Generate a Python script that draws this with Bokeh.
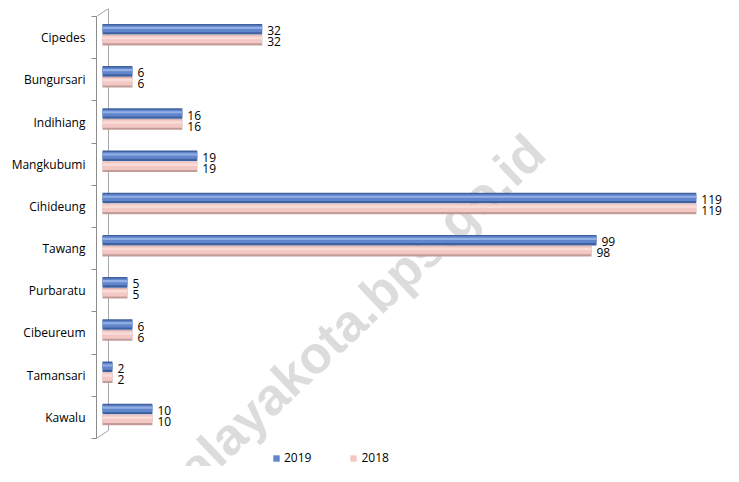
from bokeh.plotting import figure
from bokeh.models import Range1d, FixedTicker, Legend, LegendItem, ColumnDataSource, Label
from bokeh.embed import file_html
from bokeh.resources import INLINE
from bokeh.core.properties import value

categories = ["Cipedes", "Bungursari", "Indihiang", "Mangkubumi", "Cihideung",
              "Tawang", "Purbaratu", "Cibeureum", "Tamansari", "Kawalu"]
v2019 = [32, 6, 16, 19, 119, 99, 5, 6, 2, 10]
v2018 = [32, 6, 16, 19, 119, 98, 5, 6, 2, 10]
series_labels = ["2019", "2018"]

n = len(categories)
centers = [n - 1 - i + 0.5 for i in range(n)]
boundaries = list(range(0, n + 1))

y19 = [c + 0.2 for c in centers]
y18 = [c - 0.06 for c in centers]
src = ColumnDataSource(dict(
    cat=categories, v19=v2019, v18=v2018,
    y19=y19, y19m=[y + 0.01 for y in y19], y19h=[y + 0.03 for y in y19],
    y18=y18, y18m=[y + 0.02 for y in y18], y18h=[y + 0.05 for y in y18],
    l19=[str(v) for v in v2019], l18=[str(v) for v in v2018],
))

x_start, x_end = -1.2, 124.45
depth = 0.19
y_start, y_end = -0.664, n + depth
p = figure(width=723, height=466, x_range=Range1d(x_start, x_end), y_range=Range1d(y_start, y_end),
           output_backend="svg", toolbar_location=None, x_axis_location=None,
           min_border_left=96, min_border_right=0, min_border_top=8, min_border_bottom=0)
p.grid.visible = False
p.outline_line_color = None
p.background_fill_color = "white"
p.border_fill_color = "white"

ax = p.yaxis[0]
ax.bounds = (0, n)
ax.ticker = FixedTicker(ticks=centers, minor_ticks=boundaries)
ax.major_label_overrides = {c: cat for c, cat in zip(centers, categories)}
ax.major_tick_out = 0
ax.major_tick_in = 0
ax.minor_tick_out = 5
ax.minor_tick_in = 0
ax.axis_line_color = "#8c8c8c"
ax.minor_tick_line_color = "#8c8c8c"
ax.major_label_text_font = "Open Sans"
ax.major_label_text_font_size = "12px"
ax.major_label_text_color = "#000000"
ax.major_label_standoff = 6

# watermark
p.add_layout(Label(x=39.84, y=1.70, text="tasikmalayakota.bps.go.id", angle=0.759,
                   text_align="center", text_baseline="middle",
                   text_font="Liberation Sans", text_font_style="bold",
                   text_font_size="52px", text_color="#dcdcdc", level="underlay"))

# 3D back wall of the chart
wall = 1.2
p.segment(x0=[wall], y0=[depth], x1=[wall], y1=[n + depth], line_color="#a6a6a6", line_width=1)
p.segment(x0=[wall], y0=[depth], x1=[x_start], y1=[0], line_color="#a6a6a6", line_width=1)
p.segment(x0=[x_start], y0=[n], x1=[wall], y1=[n + depth], line_color="#a6a6a6", line_width=1)

# 2019 bars (blue, cylinder-like shading)
p.hbar(y="y19", left=0, right="v19", height=0.25, fill_color="#40619f", line_color=None, source=src)
r19 = p.hbar(y="y19m", left=0, right="v19", height=0.16, fill_color="#6286cb", line_color=None, source=src)
p.hbar(y="y19h", left=0, right="v19", height=0.05, fill_color="#93b0e6", line_color=None, source=src)

# 2018 bars (pink)
p.hbar(y="y18", left=0, right="v18", height=0.25, fill_color="#c29c99", line_color=None, source=src)
r18 = p.hbar(y="y18m", left=0, right="v18", height=0.19, fill_color="#f3c8c4", line_color=None, source=src)
p.hbar(y="y18h", left=0, right="v18", height=0.06, fill_color="#f9dcd8", line_color=None, source=src)

# value labels
for yk, vk, lk in (("y19", "v19", "l19"), ("y18", "v18", "l18")):
    p.text(x=vk, y=yk, text=lk, x_offset=5, y_offset=1.5, text_baseline="middle",
           text_align="left", text_font=value("Open Sans"), text_font_size="12px",
           text_color="#000000", source=src)

legend = Legend(items=[LegendItem(label=series_labels[0], renderers=[r19]),
                       LegendItem(label=series_labels[1], renderers=[r18])],
                orientation="horizontal", location=(176, 0),
                glyph_width=8, glyph_height=8, label_standoff=4, spacing=38,
                padding=2, margin=0, label_height=12, border_line_color=None,
                background_fill_alpha=0, label_text_font="Open Sans",
                label_text_font_size="12px", label_text_color="#000000")
p.add_layout(legend)

open("out.html", "w").write(file_html(p, INLINE))
